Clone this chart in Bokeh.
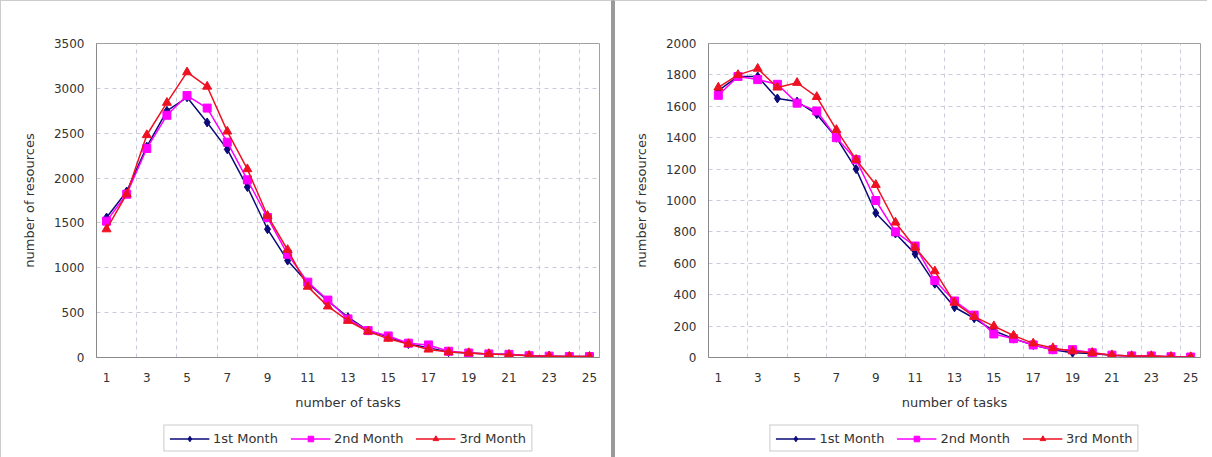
from bokeh.plotting import figure
from bokeh.models import FixedTicker, Legend, LegendItem, Range1d
from bokeh.layouts import row, column
from bokeh.embed import file_html
from bokeh.resources import INLINE

tasks = list(range(1, 26))
x_tick_labels = [1, 3, 5, 7, 9, 11, 13, 15, 17, 19, 21, 23, 25]
series_names = ["1st Month", "2nd Month", "3rd Month"]

left_m1 = [1560, 1850, 2350, 2750, 2900, 2620, 2320, 1900, 1430, 1080, 830, 630, 450,
           300, 230, 150, 110, 60, 50, 40, 35, 20, 15, 10, 10]
left_m2 = [1520, 1820, 2330, 2700, 2920, 2780, 2400, 1980, 1560, 1150, 840, 640, 430,
           300, 240, 160, 140, 70, 50, 40, 35, 20, 15, 10, 10]
left_m3 = [1430, 1820, 2480, 2840, 3180, 3020, 2520, 2100, 1580, 1200, 790, 570, 410,
           290, 210, 150, 90, 60, 50, 40, 30, 20, 15, 10, 10]
left_y_ticks = [0, 500, 1000, 1500, 2000, 2500, 3000, 3500]

right_m1 = [1700, 1790, 1790, 1650, 1630, 1550, 1400, 1200, 920, 790, 660, 470, 320,
            250, 170, 120, 80, 50, 30, 25, 15, 10, 8, 5, 3]
right_m2 = [1670, 1790, 1770, 1740, 1620, 1570, 1400, 1260, 1000, 800, 710, 490, 360,
            270, 150, 120, 80, 50, 50, 30, 15, 10, 10, 5, 3]
right_m3 = [1720, 1800, 1840, 1720, 1750, 1660, 1450, 1260, 1100, 860, 700, 550, 350,
            260, 200, 140, 90, 60, 40, 30, 15, 10, 10, 5, 3]
right_y_ticks = [0, 200, 400, 600, 800, 1000, 1200, 1400, 1600, 1800, 2000]

COLORS = ["#0a0a78", "#ff00ff", "#ee1122"]
MARKERS = ["diamond", "square", "triangle"]
MSIZES = [9, 8, 9]
FONT = "DejaVu Sans"
CHART_H = 418
LEGEND_H = 38


def make_chart(series, y_ticks, width, border_left, border_right):
    ymax = y_ticks[-1]
    p = figure(width=width, height=CHART_H, output_backend="svg",
               toolbar_location=None,
               x_range=Range1d(0.5, 25.5), y_range=Range1d(0, ymax),
               min_border_left=border_left, min_border_right=border_right,
               min_border_top=42, min_border_bottom=CHART_H - 42 - 314)
    p.background_fill_color = "white"
    p.border_fill_color = "white"
    p.outline_line_color = "#a0a0a0"

    p.xaxis.ticker = FixedTicker(ticks=x_tick_labels)
    p.yaxis.ticker = FixedTicker(ticks=y_ticks)
    p.xgrid.ticker = FixedTicker(ticks=[i + 0.5 for i in range(2, 25, 2)])
    for g in (p.xgrid, p.ygrid):
        g.grid_line_color = "#c9cbdc"
        g.grid_line_dash = "4 4"
        g.grid_line_width = 1

    for ax in (p.xaxis, p.yaxis):
        ax.axis_line_color = "#8a8a8a"
        ax.major_tick_line_color = "#9a9a9a"
        ax.minor_tick_line_color = None
        ax.major_tick_in = 0
        ax.major_tick_out = 0
        ax.major_label_text_font = FONT
        ax.major_label_text_font_size = "12px"
        ax.major_label_text_color = "#333333"
        ax.axis_label_text_font = FONT
        ax.axis_label_text_font_size = "13px"
        ax.axis_label_text_font_style = "normal"
        ax.axis_label_text_color = "#333333"
    p.xaxis.major_label_standoff = 15
    p.xaxis.axis_label = "number of tasks"
    p.xaxis.axis_label_standoff = 10
    p.yaxis.major_label_standoff = 12
    p.yaxis.axis_label = "number of resources"
    p.yaxis.axis_label_standoff = 14

    for i, vals in enumerate(series):
        p.line(tasks, vals, line_color=COLORS[i], line_width=1.5)
        p.scatter(tasks, vals, marker=MARKERS[i], size=MSIZES[i],
                  fill_color=COLORS[i], line_color=COLORS[i])

    # legend strip below the chart, aligned with the chart's plot area;
    # its renderers hold the same data but their range keeps them out of view
    lg = figure(width=width, height=LEGEND_H, output_backend="svg",
                toolbar_location=None, x_range=Range1d(-10, -9), y_range=Range1d(0, 1),
                min_border_left=border_left, min_border_right=border_right,
                min_border_top=0, min_border_bottom=0)
    lg.axis.visible = False
    lg.grid.visible = False
    lg.outline_line_color = None
    lg.background_fill_color = "white"
    lg.border_fill_color = "white"
    items = []
    for i, (name, vals) in enumerate(zip(series_names, series)):
        ln = lg.line(tasks, vals, line_color=COLORS[i], line_width=1.5)
        sc = lg.scatter(tasks, vals, marker=MARKERS[i], size=MSIZES[i],
                        fill_color=COLORS[i], line_color=COLORS[i])
        items.append(LegendItem(label=name, renderers=[ln, sc]))
    legend = Legend(items=items, orientation="horizontal", location="center",
                    label_text_font=FONT, label_text_font_size="13px",
                    label_text_color="#333333", glyph_width=40, glyph_height=14,
                    label_height=14, label_standoff=4, spacing=12, padding=5,
                    margin=0, border_line_color="#9a9a9a", border_line_width=1,
                    background_fill_color="white", background_fill_alpha=1)
    lg.add_layout(legend, "center")
    return p, lg


lp, ll = make_chart([left_m1, left_m2, left_m3], left_y_ticks, 610, 95, 12)
rp, rl = make_chart([right_m1, right_m2, right_m3], right_y_ticks, 592, 93, 7)
left_col = column(lp, ll, spacing=0)
left_col.styles = {"border-top": "1px solid #cccccc", "border-left": "1px solid #cccccc",
                   "border-right": "2px solid #9a9a9a"}
right_col = column(rp, rl, spacing=0)
right_col.styles = {"border-top": "1px solid #cccccc", "border-left": "2px solid #9a9a9a"}
layout = row(left_col, right_col, spacing=0)

open("out.html", "w").write(file_html(layout, INLINE))
